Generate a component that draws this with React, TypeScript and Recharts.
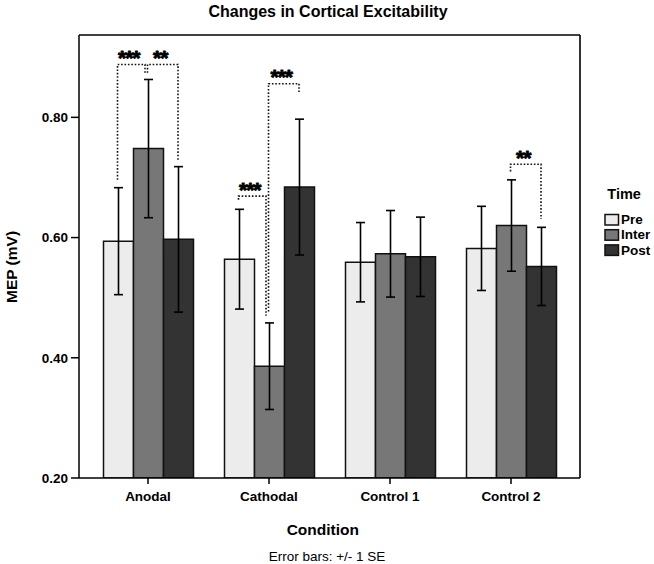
import React from "react";
import { Bar, BarChart, CartesianGrid, ErrorBar, Legend, Rectangle, XAxis, YAxis } from "recharts";

const CONDITIONS = ["Anodal", "Cathodal", "Control 1", "Control 2"];

const PRE_MEAN = [0.594, 0.564, 0.559, 0.582];
const INTER_MEAN = [0.748, 0.386, 0.573, 0.62];
const POST_MEAN = [0.597, 0.684, 0.568, 0.552];

const PRE_SE = [0.089, 0.083, 0.066, 0.07];
const INTER_SE = [0.115, 0.072, 0.072, 0.076];
const POST_SE = [0.121, 0.113, 0.066, 0.065];

const SERIES_NAMES = ["Pre", "Inter", "Post"];
const SERIES_COLORS = ["#ececec", "#777777", "#333333"];

const Y_TICKS = [0.2, 0.4, 0.6, 0.8];
const Y_MIN = 0.2;
const Y_MAX = 0.937;

// significance brackets: group, bar from/to (0 pre, 1 inter, 2 post), levels in mV
const BRACKET_GROUP = [0, 0, 1, 1, 3];
const BRACKET_FROM = [0, 1, 0, 1, 1];
const BRACKET_TO = [1, 2, 1, 2, 2];
const BRACKET_LEVEL = [0.888, 0.888, 0.669, 0.856, 0.722];
const BRACKET_LEFT_END = [0.696, 0.874, 0.663, 0.477, 0.71];
const BRACKET_RIGHT_END = [0.874, 0.729, 0.47, 0.842, 0.631];
const BRACKET_LABEL = ["***", "**", "***", "***", "**"];

const data = CONDITIONS.map((condition, i) => ({
  condition,
  pre: PRE_MEAN[i],
  inter: INTER_MEAN[i],
  post: POST_MEAN[i],
  preErr: PRE_SE[i],
  interErr: INTER_SE[i],
  postErr: POST_SE[i],
}));

const FONT = "'Liberation Sans', Arial, Helvetica, sans-serif";
const MARGIN = { top: 35, right: 74, left: 19, bottom: 46 };

function PostShape(props: any) {
  const { x, y, width, height, index, payload, fill } = props;
  // recover the y scale from this bar's geometry
  const base = y + height;
  const ppu = height / (payload.post - Y_MIN);
  const yOf = (v: number) => base - (v - Y_MIN) * ppu;
  const centerOf = (s: number) => x + width / 2 - (2 - s) * width;

  const marks = BRACKET_GROUP.map((g, i) => {
    if (g !== index) return null;
    const shared = BRACKET_GROUP.some(
      (g2, j) => g2 === g && j !== i && BRACKET_FROM[j] === BRACKET_TO[i]
    );
    const x1 = centerOf(BRACKET_FROM[i]) - 1;
    const x2 = centerOf(BRACKET_TO[i]) - (shared ? 3.5 : 0.5);
    const yl = yOf(BRACKET_LEVEL[i]);
    const d = `M${x1},${yOf(BRACKET_LEFT_END[i])}V${yl}H${x2}V${yOf(BRACKET_RIGHT_END[i])}`;
    return (
      <g key={i}>
        <path d={d} fill="none" stroke="#111" strokeWidth={1.6} strokeDasharray="1.6 1.8" />
        <text
          x={(x1 + x2) / 2 - 2.5}
          y={yl + 0.5}
          textAnchor="middle"
          fontSize={21}
          fontWeight="bold"
          letterSpacing={-1}
          fill="#000"
          stroke="#000"
          strokeWidth={0.9}
          strokeLinejoin="round"
        >
          {BRACKET_LABEL[i]}
        </text>
      </g>
    );
  });

  return (
    <g>
      <Rectangle x={x} y={y} width={width} height={height} fill={fill} stroke="#111" strokeWidth={1.5} />
      {marks}
    </g>
  );
}

function LegendBox() {
  return (
    <svg width={60} height={80} style={{ display: "block", fontFamily: FONT }}>
      <text x={7.3} y={15.7} fontSize={14.5} fontWeight="bold" fill="#000">
        Time
      </text>
      {SERIES_NAMES.map((name, i) => (
        <g key={name}>
          <rect
            x={5}
            y={31.5 + i * 15.2}
            width={13.5}
            height={10.5}
            fill={SERIES_COLORS[i]}
            stroke="#111"
            strokeWidth={1.5}
          />
          <text x={21} y={40.5 + i * 15.5} fontSize={13.5} fontWeight="bold" fill="#000">
            {name}
          </text>
        </g>
      ))}
    </svg>
  );
}

const tickStyle = { fontSize: 13.5, fontWeight: "bold", fill: "#000" } as any;
const lineStyle = { stroke: "#000", strokeWidth: 1.5 };

export default function App() {
  return (
    <div style={{ position: "absolute", left: 0, top: 0, fontFamily: FONT, background: "#fff" }}>
      <BarChart
        width={654}
        height={564}
        data={data}
        margin={MARGIN}
        barGap={0}
        barCategoryGap={16}
      >
        {/* frame around the plot area */}
        <CartesianGrid
          stroke="#000"
          strokeWidth={1.6}
          horizontalCoordinatesGenerator={({ offset }: any) => [offset.top]}
          verticalCoordinatesGenerator={({ offset }: any) => [offset.left + offset.width]}
        />
        <XAxis
          dataKey="condition"
          height={40}
          padding={{ left: 8.5, right: 8.5 }}
          tick={tickStyle}
          tickSize={6}
          tickMargin={7}
          tickLine={lineStyle}
          axisLine={lineStyle}
          label={{
            content: (p: any) => (
              <g>
                <text
                  x={p.viewBox.x + p.viewBox.width / 2 - 1.5}
                  y={MARGIN.top - 18.5}
                  textAnchor="middle"
                  fontSize={16}
                  fontWeight="bold"
                  fill="#000"
                >
                  Changes in Cortical Excitability
                </text>
                <text
                  x={p.viewBox.x + p.viewBox.width / 2 - 6.7}
                  y={p.viewBox.y + 57}
                  textAnchor="middle"
                  fontSize={15.5}
                  fontWeight="bold"
                  fill="#000"
                >
                  Condition
                </text>
                <text
                  x={p.viewBox.x + p.viewBox.width / 2 - 2.5}
                  y={p.viewBox.y + 83.3}
                  textAnchor="middle"
                  fontSize={13.5}
                  fill="#000"
                >
                  Error bars: +/- 1 SE
                </text>
              </g>
            ),
          }}
        />
        <YAxis
          type="number"
          domain={[Y_MIN, Y_MAX]}
          ticks={Y_TICKS}
          allowDataOverflow
          width={60}
          tick={tickStyle}
          tickSize={8}
          tickMargin={3}
          tickLine={lineStyle}
          axisLine={lineStyle}
          tickFormatter={(v: number) => v.toFixed(2)}
          label={{
            content: (p: any) => {
              const cx = p.viewBox.x - 1.7;
              const cy = p.viewBox.y + p.viewBox.height / 2 + 10.5;
              return (
                <text
                  x={cx}
                  y={cy}
                  transform={`rotate(-90 ${cx} ${cy})`}
                  textAnchor="middle"
                  fontSize={15.5}
                  fontWeight="bold"
                  fill="#000"
                >
                  MEP (mV)
                </text>
              );
            },
          }}
        />
        <Legend
          layout="horizontal"
          align="center"
          verticalAlign="middle"
          content={() => <LegendBox />}
          wrapperStyle={{ left: 600, top: 183, width: 60, height: 80 }}
        />
        <Bar dataKey="pre" name="Pre" fill={SERIES_COLORS[0]} stroke="#111" strokeWidth={1.5} isAnimationActive={false}>
          <ErrorBar dataKey="preErr" width={4.5} stroke="#000" strokeWidth={1.6} direction="y" />
        </Bar>
        <Bar dataKey="inter" name="Inter" fill={SERIES_COLORS[1]} stroke="#111" strokeWidth={1.5} isAnimationActive={false}>
          <ErrorBar dataKey="interErr" width={4.5} stroke="#000" strokeWidth={1.6} direction="y" />
        </Bar>
        <Bar
          dataKey="post"
          name="Post"
          fill={SERIES_COLORS[2]}
          shape={(p: any) => <PostShape {...p} />}
          isAnimationActive={false}
        >
          <ErrorBar dataKey="postErr" width={4.5} stroke="#000" strokeWidth={1.6} direction="y" />
        </Bar>
      </BarChart>
    </div>
  );
}
